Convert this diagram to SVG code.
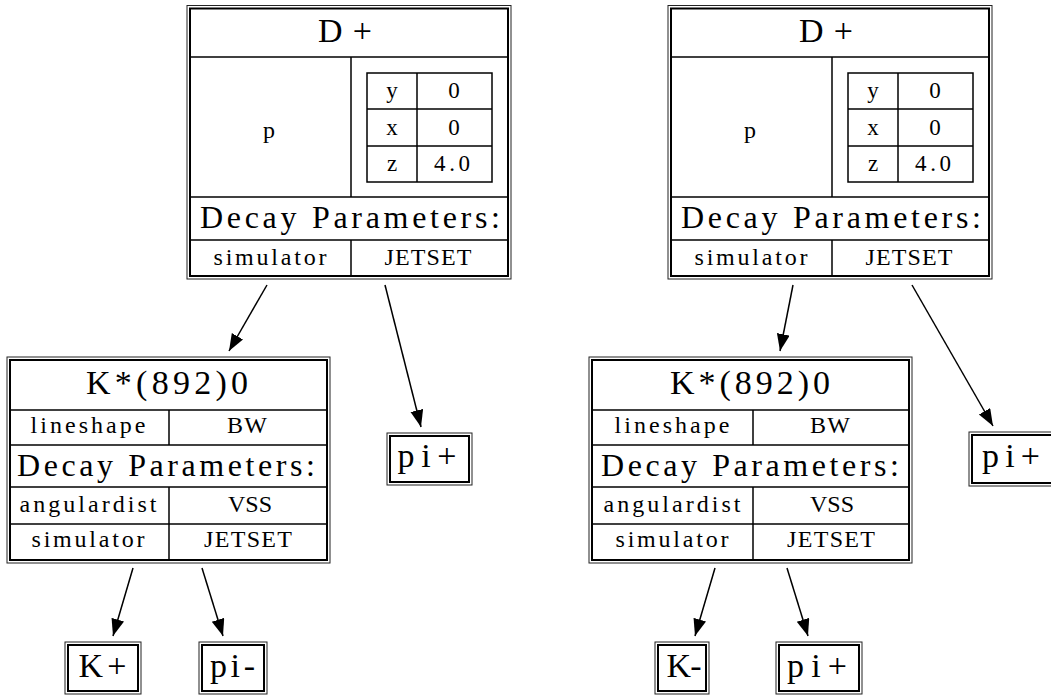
<svg xmlns="http://www.w3.org/2000/svg" width="1051" height="695" viewBox="0 0 1051 695">
<style>
.outer{fill:none;stroke:#222;stroke-width:1}
.inner{fill:none;stroke:#000;stroke-width:2}
.ln{stroke:#000;stroke-width:1.5;fill:none}
.t{font-family:"Liberation Serif","Times New Roman",serif;fill:#000;text-anchor:middle}
.h{font-size:34px}
.d{font-size:32px}
.s{font-size:24px}
.v{font-size:23px}
.e{stroke:#000;stroke-width:1.5;fill:none;marker-end:url(#ah)}
</style>
<defs>
<marker id="ah" markerUnits="userSpaceOnUse" markerWidth="18" markerHeight="14" refX="17" refY="6.5" orient="auto">
<path d="M0,0 L17,6.5 L0,13 z" fill="#000"/>
</marker>
</defs>
<rect width="1051" height="695" fill="#fff"/>

<g id="edges">
<line class="e" x1="267" y1="285" x2="229" y2="351"/>
<line class="e" x1="385" y1="285" x2="421" y2="427"/>
<line class="e" x1="793" y1="285" x2="780" y2="351"/>
<line class="e" x1="912" y1="285" x2="993" y2="426"/>
<line class="e" x1="133" y1="568" x2="113" y2="636"/>
<line class="e" x1="202" y1="568" x2="223" y2="636"/>
<line class="e" x1="715" y1="568" x2="695" y2="636"/>
<line class="e" x1="787" y1="568" x2="808" y2="636"/>
</g>

<g id="Dplus_left">
<rect class="outer" x="187" y="5.5" width="324" height="273.5"/>
<rect class="inner" x="190" y="8.5" width="318" height="267.5"/>
<line class="ln" x1="190" y1="57" x2="508" y2="57"/>
<line class="ln" x1="190" y1="197" x2="508" y2="197"/>
<line class="ln" x1="190" y1="240" x2="508" y2="240"/>
<line class="ln" x1="351" y1="57" x2="351" y2="197"/>
<line class="ln" x1="351" y1="240" x2="351" y2="276"/>
<rect class="ln" x="367" y="73" width="125" height="109"/>
<line class="ln" x1="367" y1="109" x2="492" y2="109"/>
<line class="ln" x1="367" y1="146" x2="492" y2="146"/>
<line class="ln" x1="417" y1="73" x2="417" y2="182"/>
<text class="t h" x="345" y="42" textLength="54" lengthAdjust="spacing">D+</text>
<text class="t s" x="269" y="138">p</text>
<text class="t v" x="392" y="98">y</text>
<text class="t v" x="454" y="98">0</text>
<text class="t v" x="392" y="135">x</text>
<text class="t v" x="454" y="135">0</text>
<text class="t v" x="392" y="171">z</text>
<text class="t v" x="452" y="171" textLength="36" lengthAdjust="spacing">4.0</text>
<text class="t d" x="350" y="228" textLength="300" lengthAdjust="spacing">Decay Parameters:</text>
<text class="t s" x="270" y="265" textLength="113" lengthAdjust="spacing">simulator</text>
<text class="t s" x="428" y="265" textLength="87" lengthAdjust="spacing">JETSET</text>
</g>

<g id="Dplus_right">
<rect class="outer" x="668" y="5.5" width="324" height="273.5"/>
<rect class="inner" x="671" y="8.5" width="318" height="267.5"/>
<line class="ln" x1="671" y1="57" x2="989" y2="57"/>
<line class="ln" x1="671" y1="197" x2="989" y2="197"/>
<line class="ln" x1="671" y1="240" x2="989" y2="240"/>
<line class="ln" x1="832" y1="57" x2="832" y2="197"/>
<line class="ln" x1="832" y1="240" x2="832" y2="276"/>
<rect class="ln" x="848" y="73" width="125" height="109"/>
<line class="ln" x1="848" y1="109" x2="973" y2="109"/>
<line class="ln" x1="848" y1="146" x2="973" y2="146"/>
<line class="ln" x1="898" y1="73" x2="898" y2="182"/>
<text class="t h" x="826" y="42" textLength="54" lengthAdjust="spacing">D+</text>
<text class="t s" x="750" y="138">p</text>
<text class="t v" x="873" y="98">y</text>
<text class="t v" x="935" y="98">0</text>
<text class="t v" x="873" y="135">x</text>
<text class="t v" x="935" y="135">0</text>
<text class="t v" x="873" y="171">z</text>
<text class="t v" x="933" y="171" textLength="36" lengthAdjust="spacing">4.0</text>
<text class="t d" x="831" y="228" textLength="300" lengthAdjust="spacing">Decay Parameters:</text>
<text class="t s" x="751" y="265" textLength="113" lengthAdjust="spacing">simulator</text>
<text class="t s" x="909" y="265" textLength="87" lengthAdjust="spacing">JETSET</text>
</g>

<g id="Kstar_left">
<rect class="outer" x="7" y="357" width="323" height="206"/>
<rect class="inner" x="10" y="360" width="317" height="200"/>
<line class="ln" x1="10" y1="410" x2="327" y2="410"/>
<line class="ln" x1="10" y1="445" x2="327" y2="445"/>
<line class="ln" x1="10" y1="487" x2="327" y2="487"/>
<line class="ln" x1="10" y1="524" x2="327" y2="524"/>
<line class="ln" x1="169" y1="410" x2="169" y2="445"/>
<line class="ln" x1="169" y1="487" x2="169" y2="560"/>
<text class="t h" x="167" y="394" textLength="162" lengthAdjust="spacing">K*(892)0</text>
<text class="t s" x="88" y="433" textLength="115" lengthAdjust="spacing">lineshape</text>
<text class="t s" x="247" y="433" textLength="40" lengthAdjust="spacing">BW</text>
<text class="t d" x="166" y="476" textLength="298" lengthAdjust="spacing">Decay Parameters:</text>
<text class="t s" x="88" y="512" textLength="137" lengthAdjust="spacing">angulardist</text>
<text class="t s" x="250" y="512">VSS</text>
<text class="t s" x="88" y="547" textLength="113" lengthAdjust="spacing">simulator</text>
<text class="t s" x="248" y="547" textLength="88" lengthAdjust="spacing">JETSET</text>
</g>

<g id="Kstar_right">
<rect class="outer" x="589" y="357" width="323" height="206"/>
<rect class="inner" x="592" y="360" width="317" height="200"/>
<line class="ln" x1="592" y1="410" x2="909" y2="410"/>
<line class="ln" x1="592" y1="445" x2="909" y2="445"/>
<line class="ln" x1="592" y1="487" x2="909" y2="487"/>
<line class="ln" x1="592" y1="524" x2="909" y2="524"/>
<line class="ln" x1="753" y1="410" x2="753" y2="445"/>
<line class="ln" x1="753" y1="487" x2="753" y2="560"/>
<text class="t h" x="750" y="394" textLength="160" lengthAdjust="spacing">K*(892)0</text>
<text class="t s" x="672" y="433" textLength="115" lengthAdjust="spacing">lineshape</text>
<text class="t s" x="830" y="433" textLength="40" lengthAdjust="spacing">BW</text>
<text class="t d" x="750" y="476" textLength="298" lengthAdjust="spacing">Decay Parameters:</text>
<text class="t s" x="672" y="512" textLength="137" lengthAdjust="spacing">angulardist</text>
<text class="t s" x="832" y="512">VSS</text>
<text class="t s" x="672" y="547" textLength="113" lengthAdjust="spacing">simulator</text>
<text class="t s" x="831" y="547" textLength="88" lengthAdjust="spacing">JETSET</text>
</g>

<g id="piplus_mid">
<rect class="outer" x="387" y="433" width="85" height="52"/>
<rect class="inner" x="390" y="436" width="79" height="46"/>
<text class="t h" x="427" y="467" textLength="59" lengthAdjust="spacing">pi+</text>
</g>

<g id="piplus_far">
<rect class="outer" x="969" y="432" width="86" height="54"/>
<rect class="inner" x="972" y="435" width="80" height="48"/>
<text class="t h" x="1011" y="467" textLength="58" lengthAdjust="spacing">pi+</text>
</g>

<g id="Kplus">
<rect class="outer" x="65" y="642" width="76" height="52"/>
<rect class="inner" x="68" y="645" width="70" height="46"/>
<text class="t h" x="102.5" y="677" textLength="48" lengthAdjust="spacing">K+</text>
</g>

<g id="piminus">
<rect class="outer" x="199" y="642" width="68" height="52"/>
<rect class="inner" x="202" y="645" width="62" height="46"/>
<text class="t h" x="232.5" y="677" textLength="45" lengthAdjust="spacing">pi-</text>
</g>

<g id="Kminus">
<rect class="outer" x="655" y="642" width="54" height="52"/>
<rect class="inner" x="658" y="645" width="48" height="46"/>
<text class="t h" x="684" y="677" textLength="35" lengthAdjust="spacing">K-</text>
</g>

<g id="piplus_br">
<rect class="outer" x="776" y="642" width="86" height="52"/>
<rect class="inner" x="779" y="645" width="80" height="46"/>
<text class="t h" x="817" y="677" textLength="60" lengthAdjust="spacing">pi+</text>
</g>
</svg>
